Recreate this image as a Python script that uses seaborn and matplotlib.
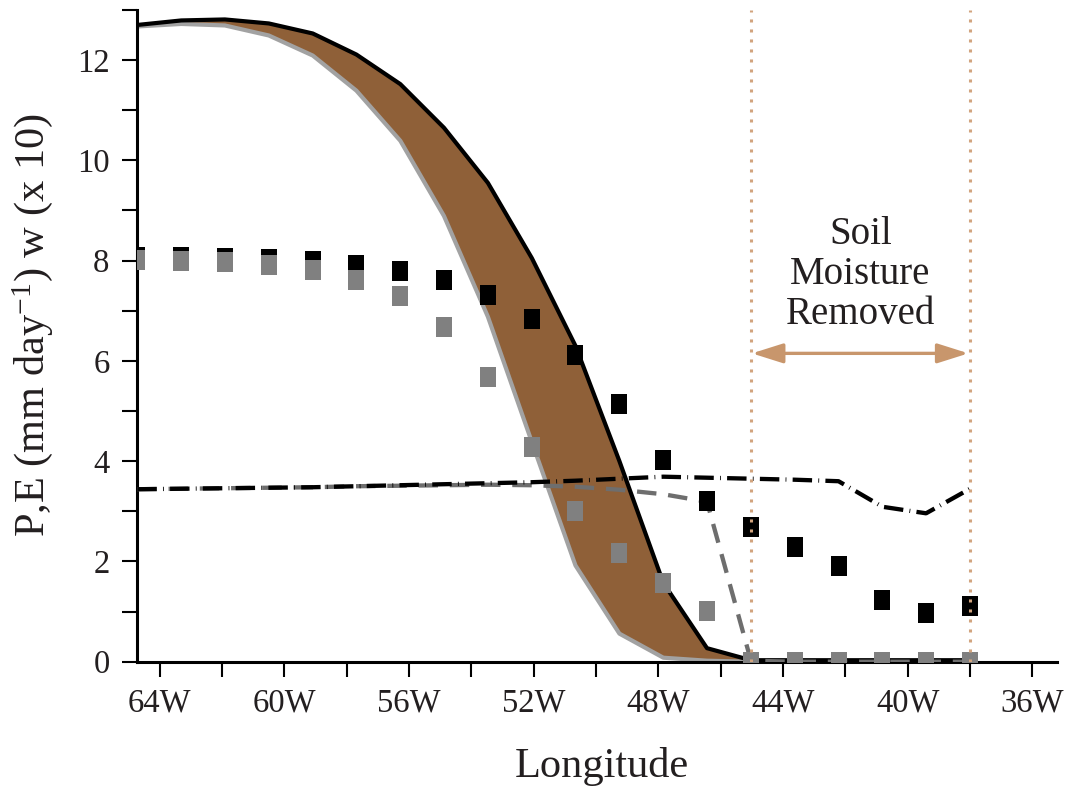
import numpy as np
import pandas as pd
import matplotlib as mpl
import matplotlib.pyplot as plt
import seaborn as sns

# grid longitudes (deg E), west -> east
lons = [-64.72, -63.31, -61.91, -60.50, -59.09, -57.69, -56.28, -54.88, -53.47, -52.06,
        -50.66, -49.25, -47.84, -46.44, -45.03, -43.63, -42.22, -40.81, -39.41, -38.00]

# precipitation, control (black) and soil moisture removed (grey)
p_ctl = [12.70, 12.79, 12.81, 12.73, 12.53, 12.11, 11.52, 10.65, 9.55, 8.05,
         6.30, 4.00, 1.57, 0.27, 0.03, 0.03, 0.03, 0.03, 0.03, 0.03]
p_nosm = [12.67, 12.72, 12.69, 12.49, 12.09, 11.39, 10.39, 8.89, 6.88, 4.38,
          1.92, 0.56, 0.08, 0.02, 0.00, 0.00, 0.00, 0.00, 0.00, 0.00]

# evaporation (squares)
e_ctl = [8.07, 8.07, 8.05, 8.03, 7.99, 7.91, 7.79, 7.61, 7.31, 6.84,
         6.12, 5.14, 4.02, 3.21, 2.69, 2.28, 1.91, 1.23, 0.97, 1.11]
e_nosm = [8.01, 8.00, 7.97, 7.91, 7.81, 7.61, 7.29, 6.68, 5.68, 4.28,
          3.00, 2.16, 1.56, 1.02, 0.00, 0.00, 0.00, 0.00, 0.00, 0.00]

# vertical velocity w (x 10), dashed lines
w_ctl = [3.44, 3.45, 3.46, 3.47, 3.48, 3.50, 3.52, 3.54, 3.56, 3.58,
         3.61, 3.65, 3.69, 3.67, 3.65, 3.63, 3.60, 3.09, 2.96, 3.45]
w_nosm = [3.44, 3.45, 3.46, 3.47, 3.48, 3.50, 3.51, 3.52, 3.53, 3.52,
          3.49, 3.43, 3.34, 3.19, 0.02, 0.00, 0.00, 0.00, 0.00, 0.00]

xtick_vals = [-64, -60, -56, -52, -48, -44, -40, -36]
xtick_labels = ['64W', '60W', '56W', '52W', '48W', '44W', '40W', '36W']
box_west, box_east = -45.03, -38.00

df = pd.DataFrame({'lon': lons, 'p_ctl': p_ctl, 'p_nosm': p_nosm,
                   'e_ctl': e_ctl, 'e_nosm': e_nosm,
                   'w_ctl': w_ctl, 'w_nosm': w_nosm})

sns.set_theme(style='ticks')
plt.rcParams['font.family'] = ['Liberation Serif', 'DejaVu Serif']
plt.rcParams['mathtext.fontset'] = 'custom'
plt.rcParams['mathtext.rm'] = 'Liberation Serif'
plt.rcParams['mathtext.it'] = 'Liberation Serif:italic'
plt.rcParams['mathtext.default'] = 'rm'
plt.rcParams['lines.scale_dashes'] = False

ink = '#231f20'
brown = '#8f6038'
tan = '#c8966c'
tan_dot = '#d2a47e'

fig = plt.figure(figsize=(10.71, 7.87), dpi=100)
ax = fig.add_axes([0.1282, 0.1592, 0.8587, 0.8282])

ax.fill_between(df['lon'], df['p_nosm'], df['p_ctl'], color=brown, lw=0, zorder=1)
sns.lineplot(data=df, x='lon', y='p_nosm', color='#a2a2a2', lw=3, ax=ax, zorder=2)
sns.lineplot(data=df, x='lon', y='p_ctl', color='black', lw=3, ax=ax, zorder=2.1)
sns.lineplot(data=df, x='lon', y='w_nosm', color='#6e6e6e', lw=3.1,
             linestyle=(0, (14, 8.5)), ax=ax, zorder=3)
sns.lineplot(data=df, x='lon', y='w_ctl', color='black', lw=3.1,
             linestyle=(0, (14, 4.5, 0.6, 4.5)), ax=ax, zorder=3.1)

rect = mpl.markers.MarkerStyle([(-0.38, -0.5), (0.38, -0.5), (0.38, 0.5), (-0.38, 0.5), (-0.38, -0.5)])
sns.scatterplot(data=df, x='lon', y='e_ctl', marker=rect, s=228, color='black',
                linewidth=0, ax=ax, zorder=4, legend=False)
sns.scatterplot(data=df, x='lon', y='e_nosm', marker=rect, s=228, color='#808080',
                linewidth=0, ax=ax, zorder=4.1, legend=False)

for xv in (box_west, box_east):
    ax.axvline(xv, color=tan_dot, lw=2.2, linestyle=(0, (2.2, 5.0)), zorder=5)

ax.annotate('', xy=(box_east - 0.05, 6.15), xytext=(box_west + 0.03, 6.15),
            arrowprops=dict(arrowstyle='<|-|>,head_length=0.95,head_width=0.3',
                            color=tan, lw=2.4, mutation_scale=20, shrinkA=0, shrinkB=0),
            zorder=5)
ax.text((box_west + box_east) / 2, 7.72, 'Soil\nMoisture\nRemoved', ha='center', va='center',
        fontsize=28, linespacing=1.1, color=ink)

ax.set_xlim(-64.72, -35.21)
ax.set_ylim(0, 13)
ax.set_xticks(xtick_vals)
ax.set_xticklabels(xtick_labels)
ax.set_xticks([-62, -58, -54, -50, -46, -42, -38], minor=True)
ax.set_yticks([0, 2, 4, 6, 8, 10, 12])
ax.set_yticks([1, 3, 5, 7, 9, 11, 13], minor=True)
ax.tick_params(axis='both', which='both', direction='out', length=10.5, width=1.5,
               color='black', labelcolor=ink, labelsize=23.5)
ax.tick_params(axis='x', which='both', pad=8.3)
ax.tick_params(axis='y', which='both', pad=9.5)

sns.despine(ax=ax)
for side in ('left', 'bottom'):
    ax.spines[side].set_linewidth(2.2)
    ax.spines[side].set_color('black')

ax.set_xlabel('Longitude', fontsize=30.5, color=ink)
ax.xaxis.set_label_coords(0.505, -0.131)
ax.set_ylabel(r'P,E (mm day$^{-1}$) w (x 10)', fontsize=30.5, color=ink)
ax.yaxis.set_label_coords(-0.09, 0.5166)

fig.savefig('out.png', dpi=100)
